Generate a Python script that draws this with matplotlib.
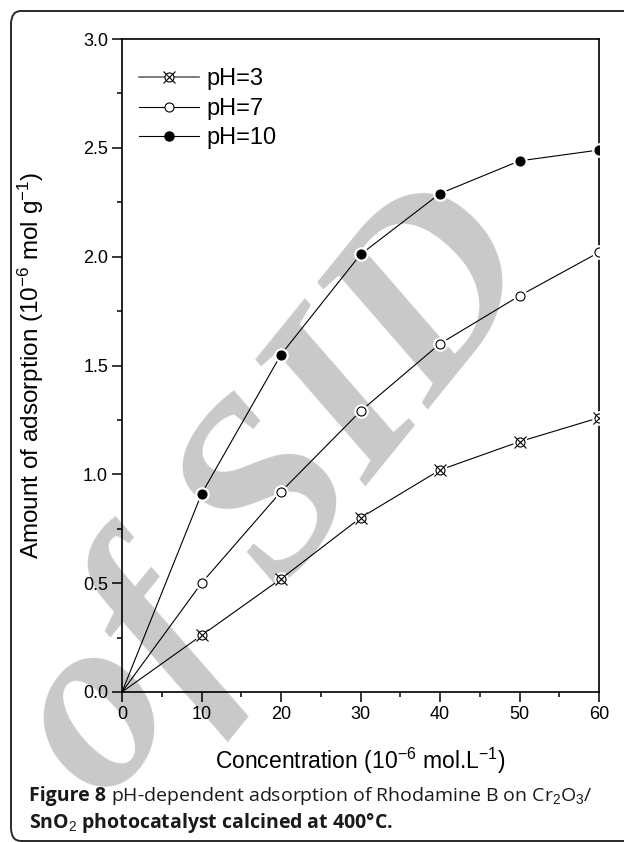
import matplotlib
matplotlib.use("Agg")
import matplotlib.pyplot as plt
from matplotlib.patches import FancyBboxPatch
from matplotlib.lines import Line2D
from matplotlib.legend_handler import HandlerTuple
from matplotlib.ticker import MultipleLocator

plt.rcParams['font.family'] = ['Liberation Sans', 'DejaVu Sans']
plt.rcParams['mathtext.fontset'] = 'custom'
plt.rcParams['mathtext.rm'] = 'Liberation Sans'
plt.rcParams['mathtext.it'] = 'Liberation Sans:italic'

# data
conc = [0, 10, 20, 30, 40, 50, 60]
ph3 = [0, 0.26, 0.52, 0.80, 1.02, 1.15, 1.26]
ph7 = [0, 0.50, 0.92, 1.29, 1.60, 1.82, 2.02]
ph10 = [0, 0.91, 1.55, 2.01, 2.29, 2.44, 2.49]
labels = ['pH=3', 'pH=7', 'pH=10']

W, H = 624, 842
fig = plt.figure(figsize=(W / 100, H / 100), dpi=100)

# rounded frame round the figure panel
frame = FancyBboxPatch((11 / W, 1 / H), 700 / W, 830 / H,
                       boxstyle="round,pad=0,rounding_size=0.016",
                       transform=fig.transFigure, fill=False,
                       ec='#2a2a2a', lw=1.4, zorder=-2)
fig.patches.append(frame)

# watermark, behind the axes
fig.text(0.445, 0.41, 'of SID', fontfamily=['Liberation Serif', 'DejaVu Serif'],
         fontstyle='italic', fontweight='bold', fontsize=182,
         color='#c9c9c9', rotation=51, ha='center', va='center', zorder=-1)

ax = fig.add_axes([122 / W, 1 - 692 / H, 477 / W, 653 / H])
ax.patch.set_alpha(0)

ms = 6.5
# lines first, then white halo, then markers (gap round each symbol)
for y in (ph3, ph7, ph10):
    ax.plot(conc, y, color='k', lw=0.8, zorder=2)
    ax.plot(conc[1:], y[1:], ls='none', marker='o', ms=ms + 3,
            mfc='white', mec='white', zorder=3)
ax.plot(conc[1:], ph3[1:], ls='none', marker='o', ms=ms, mfc='white',
        mec='k', mew=0.8, zorder=4)
ax.plot(conc[1:], ph3[1:], ls='none', marker='x', ms=ms + 1.5,
        mec='k', mew=0.8, zorder=5)
ax.plot(conc[1:], ph7[1:], ls='none', marker='o', ms=ms, mfc='white',
        mec='k', mew=0.8, zorder=4)
ax.plot(conc[1:], ph10[1:], ls='none', marker='o', ms=ms, mfc='k',
        mec='k', mew=0.8, zorder=4)

h3a = Line2D([], [], color='#666666', lw=1.2, marker='o', ms=ms,
             mfc='white', mec='k', mew=0.8)
h3b = Line2D([], [], ls='none', marker='x', ms=ms + 1.5, mec='k', mew=0.8)
h7 = Line2D([], [], color='k', lw=0.8, marker='o', ms=ms, mfc='white',
            mec='k', mew=0.8)
h10 = Line2D([], [], color='k', lw=0.8, marker='o', ms=ms, mfc='k', mec='k')
ax.legend([(h3a, h3b), h7, h10], labels, loc='upper left',
          bbox_to_anchor=(0.036, 0.955), frameon=False, fontsize=17,
          handlelength=2.55, handletextpad=0.3, labelspacing=0.32,
          borderaxespad=0, borderpad=0,
          handler_map={tuple: HandlerTuple(ndivide=1)})

ax.set_xlim(0, 60)
ax.set_ylim(0, 3.0)
ax.xaxis.set_major_locator(MultipleLocator(10))
ax.xaxis.set_minor_locator(MultipleLocator(5))
ax.yaxis.set_major_locator(MultipleLocator(0.5))
ax.yaxis.set_minor_locator(MultipleLocator(0.25))
ax.yaxis.set_major_formatter(lambda v, p: '%.1f' % v)
ax.tick_params(which='major', direction='out', length=7, width=1.1,
               labelsize=13, pad=3)
ax.tick_params(which='minor', direction='out', length=3.5, width=1.1)
for s in ax.spines.values():
    s.set_linewidth(1.2)

ax.set_xlabel('Concentration (10$^{-6}$ mol.L$^{-1}$)', fontsize=16.5)
ax.set_ylabel('Amount of adsorption (10$^{-6}$ mol g$^{-1}$)', fontsize=17.5)
ax.xaxis.set_label_coords(0.5, -0.083)
ax.yaxis.set_label_coords(-0.16, 0.5)

# caption: bold lead, then regular text
cap_font = ['Open Sans', 'DejaVu Sans']
t1 = fig.text(29 / W, 1 - 801 / H, 'Figure 8', family=cap_font,
              weight='bold', fontsize=14, va='baseline', color='#1a1a1a')
fig.canvas.draw()
bb = t1.get_window_extent()
rest = (' pH-dependent adsorption of Rhodamine B on Cr$_2$O$_3$/')
fig.text(bb.x1 / W, 1 - 801 / H, rest, family=cap_font, fontsize=14,
         va='baseline', color='#1a1a1a')
fig.text(29 / W, 1 - 828 / H,
         'SnO$_2$ photocatalyst calcined at 400\u00b0C.', family=cap_font,
         weight='bold', fontsize=14, va='baseline', color='#1a1a1a')

fig.savefig('out.png', dpi=100)
